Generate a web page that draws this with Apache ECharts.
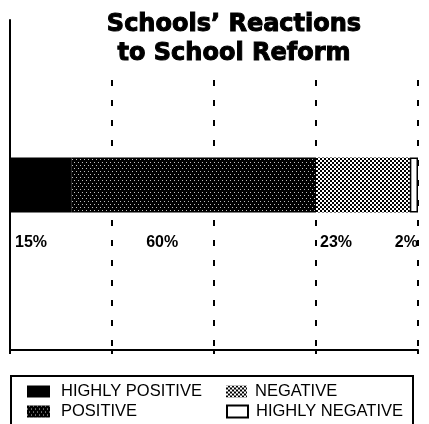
<!DOCTYPE html>
<html>
<head>
<meta charset="utf-8">
<script src="https://cdn.jsdelivr.net/npm/echarts@6/dist/echarts.min.js"></script>
<style>html,body{margin:0;padding:0;background:#fff}#c{width:429px;height:424px}</style>
</head>
<body>
<div id="c"></div>
<script>
var titleText = "Schools\u2019 Reactions\nto School Reform";
var categories = ["Schools"];
var seriesNames = ["HIGHLY POSITIVE", "POSITIVE", "NEGATIVE", "HIGHLY NEGATIVE"];
var highlyPositive = [15];
var positive = [60];
var negative = [23];
var highlyNegative = [2];
var xTicks = [0, 25, 50, 75, 100];

var F = "'Liberation Sans', Arial, sans-serif";
var chart = echarts.init(document.getElementById('c'), null, {renderer: 'canvas'});

var labelBase = {show: true, formatter: '{c}%', color: '#000', fontFamily: F, fontSize: 16, fontWeight: 'bold', align: 'left', verticalAlign: 'middle'};

function mk(name, data, itemStyle, labelPos) {
  return {
    name: name, type: 'bar', stack: 'all', data: data, barWidth: 55,
    itemStyle: itemStyle,
    label: Object.assign({}, labelBase, {position: labelPos}),
    emphasis: {disabled: true}, animation: false
  };
}

function lg(name, left, top, w, pad) {
  return {data: [name], left: left, top: top, itemWidth: w, itemHeight: 12, icon: 'rect', padding: 0,
    textStyle: {fontFamily: F, fontSize: 16.5, color: '#000', padding: [0, 0, 0, pad]}, selectedMode: false};
}

chart.setOption({
  animation: false,
  title: {
    text: titleText, left: 229, top: 5, textAlign: 'center',
    textStyle: {fontFamily: "'DejaVu Sans', sans-serif", fontSize: 24, fontWeight: 'bold', lineHeight: 29, color: '#000',
      textBorderColor: '#000', textBorderWidth: 1}
  },
  grid: {left: 10, right: 11, top: 20, bottom: 74, containLabel: false},
  xAxis: {
    type: 'value', min: xTicks[0], max: xTicks[xTicks.length - 1], interval: 25,
    axisLine: {show: true, lineStyle: {color: '#000', width: 2}},
    axisTick: {show: true, length: 4, lineStyle: {color: '#000', width: 2}},
    axisLabel: {show: false},
    splitLine: {show: true, lineStyle: {color: '#000', width: 2, type: [6, 14]}}
  },
  yAxis: {
    type: 'category', data: categories,
    axisLine: {show: true, lineStyle: {color: '#000', width: 2}},
    axisTick: {show: false}, axisLabel: {show: false}
  },
  legend: [
    lg(seriesNames[0], 27, 383, 23, 6),
    lg(seriesNames[1], 27, 403, 23, 6),
    lg(seriesNames[2], 226, 383, 21, 3),
    lg(seriesNames[3], 226, 403, 21, 3)
  ],
  graphic: [
    {type: 'rect', z: 3, shape: {x: 30, y: 0, width: 399, height: 79}, style: {fill: '#fff'}, silent: true},
    {type: 'rect', z: 1, shape: {x: 11, y: 376, width: 402, height: 60}, style: {fill: 'none', stroke: '#000', lineWidth: 2}, silent: true}
  ],
  series: [
    mk(seriesNames[0], highlyPositive, {color: '#000'}, [5, 85]),
    mk(seriesNames[1], positive, {color: '#000', decal: {symbol: 'rect', symbolSize: 1, color: 'rgba(255,255,255,0.75)', dashArrayX: [[1, 3], [0, 2, 1, 1]], dashArrayY: [1, 2]}}, [75, 85]),
    mk(seriesNames[2], negative, {color: '#fff', decal: {symbol: 'rect', symbolSize: 1, color: '#000', dashArrayX: [[2, 2], [0, 2, 2, 0]], dashArrayY: [2, 0]}}, [4, 85]),
    mk(seriesNames[3], highlyNegative, {color: '#fff', borderColor: '#000', borderWidth: 1.5}, [-15, 85])
  ]
});
</script>
</body>
</html>
